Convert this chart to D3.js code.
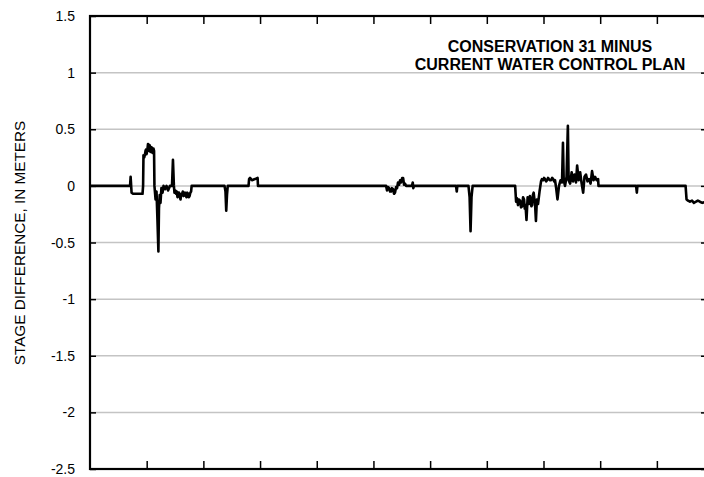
<!DOCTYPE html>
<html>
<head>
<meta charset="utf-8">
<script src="https://cdn.jsdelivr.net/npm/d3@7"></script>
<style>
  body { margin: 0; background: #fff; }
  svg { display: block; }
</style>
</head>
<body>
<div class="chart"></div>
<script>
var width = 704,
height = 477,
margin = {top: 16, bottom: 8, right: -2, left: 90};

// day of simulation period
var days = [0, 21.2, 21.5, 22.0, 22.8, 27.8, 28.1, 28.3, 28.7, 29.1, 29.4, 29.6, 29.9, 30.2, 30.5, 30.7, 31.0, 31.2, 31.5, 31.8, 32.0, 32.3, 32.6, 32.8, 33.1, 33.3, 33.6, 33.9, 34.1, 34.7, 35.2, 35.7, 36.2, 36.5, 36.9, 37.3, 37.8, 38.4, 38.9, 39.7, 40.5, 41.3, 42.3, 43.4, 43.9, 44.4, 44.7, 45.1, 45.5, 45.9, 46.3, 46.7, 47.1, 47.5, 47.9, 48.3, 48.7, 49.1, 49.5, 49.9, 50.3, 50.7, 51.1, 51.5, 51.9, 52.3, 52.7, 53.1, 53.5, 53.8,
  71.2, 71.7, 72.1, 72.5, 72.9, 83.9, 84.2, 84.7, 85.7, 87.3, 88.7, 88.9,
  156.7, 157.2, 157.7, 158.3, 158.8, 159.3, 159.8, 160.4, 160.9, 161.4, 162.0, 162.5, 163.0, 163.6, 164.1, 164.6, 165.2, 165.7, 166.2, 166.7, 167.3, 170.4, 170.8, 171.1, 171.5,
  193.7, 194.1, 194.4, 200.3, 200.9, 201.4, 201.9, 202.5,
  225.0, 225.5, 226.0, 226.5, 227.0, 227.6, 228.1, 228.7, 229.2, 229.7, 230.1, 230.5, 231.0, 231.6, 232.0, 232.4, 232.8, 233.2, 233.6, 234.0, 234.4, 234.8, 235.2, 235.5, 236.0, 236.5, 237.1, 237.9, 238.7, 239.2, 239.8, 240.3, 240.8, 241.4, 241.9, 242.4, 242.9, 243.5, 244.0, 244.6, 245.1, 245.6, 246.1, 246.7, 247.4, 248.2, 249.0, 249.8, 250.3, 250.7, 251.4, 252.2, 252.9, 253.3, 254.1, 254.9, 255.6, 256.4, 257.2, 257.8, 258.6, 259.4, 260.2, 261.0, 261.7, 262.5, 263.3, 264.1, 264.9, 265.7, 266.5, 267.3, 268.1, 268.9, 269.1,
  289.0, 289.4, 289.7, 315.2, 315.7, 316.5, 317.5, 318.6, 319.6, 320.7, 321.7, 322.8, 324, 326];

// stage difference, meters
var stageDiff = [0, 0, 0.08, -0.06, -0.07, -0.07, 0, 0.27, 0.25, 0.28, 0.31, 0.32, 0.28, 0.30, 0.34, 0.37, 0.31, 0.33, 0.36, 0.35, 0.30, 0.31, 0.34, 0.33, 0.29, 0.30, 0.33, 0.31, 0, -0.12, -0.05, -0.30, -0.58, -0.20, -0.08, -0.15, -0.02, -0.06, 0, -0.03, 0, -0.04, 0, 0, 0.23, 0, -0.06, -0.04, -0.07, -0.05, -0.10, -0.06, -0.06, -0.09, -0.12, -0.07, -0.07, -0.05, -0.09, -0.08, -0.06, -0.09, -0.10, -0.06, -0.07, -0.10, -0.09, -0.06, -0.05, 0,
  0, -0.05, -0.22, -0.08, 0, 0, 0.06, 0.07, 0.05, 0.06, 0.07, 0,
  0, -0.04, -0.01, -0.02, -0.05, -0.05, -0.02, -0.03, -0.07, -0.06, -0.01, -0.02, 0.03, 0.01, 0.05, 0.03, 0.07, 0.07, 0.01, 0.02, 0, 0, 0.03, -0.02, 0,
  0, -0.05, 0, 0, -0.10, -0.40, -0.10, 0,
  0, -0.14, -0.11, -0.17, -0.12, -0.13, -0.19, -0.18, -0.10, -0.12, -0.20, -0.17, -0.30, -0.10, -0.13, -0.16, -0.09, -0.12, -0.18, -0.17, -0.08, -0.06, -0.12, -0.15, -0.31, -0.12, -0.16, -0.05, 0.04, 0.06, 0.05, 0.07, 0.06, 0.04, 0.05, 0.07, 0.06, 0.05, 0.05, 0.07, 0.06, 0.04, 0.05, -0.02, -0.12, 0, 0.05, 0.03, 0.38, 0.05, 0, 0.08, 0.53, 0.05, 0.02, 0.12, 0.04, 0.10, 0.03, 0.18, 0.05, 0.12, 0.02, -0.06, 0.08, 0.10, 0.04, 0.06, 0.02, 0.13, 0.05, 0.08, 0.05, 0.06, 0,
  0, -0.06, 0, 0, -0.12, -0.13, -0.14, -0.13, -0.15, -0.14, -0.13, -0.14, -0.15, -0.14];

var yTicks = [1.5, 1, 0.5, 0, -0.5, -1, -1.5, -2, -2.5];
var xTicks = [30, 60, 90, 120, 150, 180, 210, 240, 270, 300];
var titleLines = ["CONSERVATION 31 MINUS", "CURRENT WATER CONTROL PLAN"];

var svg = d3.select(".chart").append("svg")
  .attr("width", width)
  .attr("height", height);

var x = d3.scaleLinear()
  .domain([0, 326])
  .range([margin.left, width - margin.right]);

var y = d3.scaleLinear()
  .domain([-2.5, 1.5])
  .range([height - margin.bottom, margin.top]);

// gridlines
svg.append("g").selectAll("line")
  .data(yTicks.filter(function(d) { return d > -2.5 && d < 1.5; }))
  .enter().append("line")
  .attr("x1", x(0)).attr("x2", x(326))
  .attr("y1", function(d) { return y(d); })
  .attr("y2", function(d) { return y(d); })
  .style("stroke", "#c4c4c4")
  .style("stroke-width", 1.5);

// inward ticks on all four sides
var leftAxis = svg.append("g").attr("transform", "translate(" + x(0) + ",0)")
  .call(d3.axisRight(y).tickValues(yTicks).tickSize(6).tickFormat(""));
var rightAxis = svg.append("g").attr("transform", "translate(" + x(326) + ",0)")
  .call(d3.axisLeft(y).tickValues(yTicks).tickSize(5).tickFormat(""));
var topAxis = svg.append("g").attr("transform", "translate(0," + y(1.5) + ")")
  .call(d3.axisBottom(x).tickValues(xTicks).tickSize(8).tickFormat(""));
var bottomAxis = svg.append("g").attr("transform", "translate(0," + y(-2.5) + ")")
  .call(d3.axisTop(x).tickValues(xTicks).tickSize(8).tickFormat(""));
[leftAxis, rightAxis, topAxis, bottomAxis].forEach(function(a) {
  a.select(".domain").remove();
  a.selectAll(".tick line").style("stroke", "#000").style("stroke-width", 1.5);
});

// y labels
svg.append("g").selectAll("text")
  .data(yTicks)
  .enter().append("text")
  .text(function(d) { return d; })
  .attr("x", 75)
  .attr("y", function(d) { return y(d); })
  .attr("dy", "0.36em")
  .attr("text-anchor", "end")
  .attr("font-family", "Liberation Sans, Arial, sans-serif")
  .attr("font-size", "14px")
  .attr("fill", "#000");

svg.append("text")
  .text("STAGE DIFFERENCE, IN METERS")
  .attr("transform", "translate(25," + 243 + ") rotate(-90)")
  .attr("text-anchor", "middle")
  .attr("font-family", "Liberation Sans, Arial, sans-serif")
  .attr("font-size", "15.3px")
  .attr("fill", "#000");

// data line
var points = days.map(function(d, i) { return [d, stageDiff[i]]; });
svg.append("path")
  .datum(points)
  .attr("d", d3.line()
    .x(function(d) { return x(d[0]); })
    .y(function(d) { return y(d[1]); }))
  .style("fill", "none")
  .style("stroke", "#000")
  .style("stroke-width", 2.6)
  .style("stroke-linejoin", "round");

// frame
svg.append("rect")
  .attr("x", x(0)).attr("y", y(1.5))
  .attr("width", x(326) - x(0))
  .attr("height", y(-2.5) - y(1.5))
  .style("fill", "none")
  .style("stroke", "#000")
  .style("stroke-width", 2.2);

// annotation
svg.append("g").selectAll("text")
  .data(titleLines)
  .enter().append("text")
  .text(function(d) { return d; })
  .attr("x", 550)
  .attr("y", function(d, i) { return 52 + i * 18; })
  .attr("text-anchor", "middle")
  .attr("font-family", "Liberation Sans, Arial, sans-serif")
  .attr("font-weight", "bold")
  .attr("font-size", "16px")
  .attr("fill", "#000");
</script>
</body>
</html>
